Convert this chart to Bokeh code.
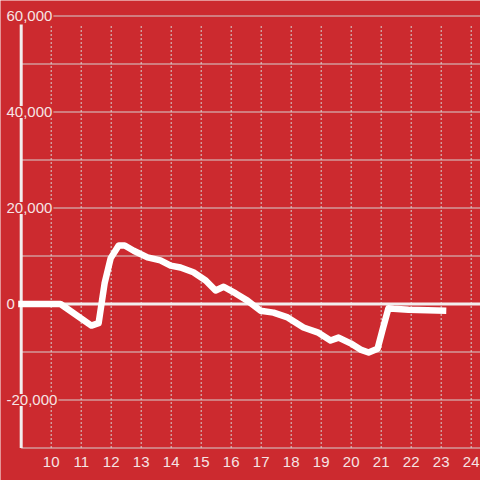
from bokeh.plotting import figure
from bokeh.models import Range1d
from bokeh.core.properties import value
from bokeh.embed import file_html
from bokeh.resources import INLINE

# ---- data ----
hours = [8.9, 10.31, 11.34, 11.58, 11.78, 11.98, 12.25, 12.45, 12.75, 13.21, 13.64,
         13.98, 14.31, 14.74, 15.15, 15.48, 15.75, 16.15, 16.54, 16.98, 17.41, 17.88,
         18.41, 18.88, 19.31, 19.58, 19.98, 20.31, 20.58, 20.88, 21.04, 21.24, 21.41,
         21.91, 23.17]
values = [0, 0, -4500, -4000, 4300, 9500, 12200, 12200, 11100, 9700, 9100,
          8000, 7600, 6600, 4900, 2800, 3600, 2200, 700, -1400, -1800, -2800,
          -4900, -5900, -7600, -7000, -8200, -9500, -10100, -9300, -5500, -900, -1000,
          -1200, -1400]

x_ticks = [10, 11, 12, 13, 14, 15, 16, 17, 18, 19, 20, 21, 22, 23, 24]
y_ticks = [-20000, 0, 20000, 40000, 60000]
y_tick_labels = ["-20,000", "0", "20,000", "40,000", "60,000"]
y_grid = [-20000, -10000, 10000, 20000, 30000, 40000, 50000, 60000]

BG = "#cc2a2f"
TXT = "#f6e4e4"
GRID = "#d6d0d0"

# pixel mapping: 30 px per hour, 4.8 px per 1000
X0 = 9.0
Y_BOTTOM = -30000
x_start = X0 - 20.7 / 30
x_end = x_start + 480 / 30
y_end = 303.5 / 4.8 * 1000
y_start = y_end - 480 / 4.8 * 1000
y_top_lines = (303.5 - 24) / 4.8 * 1000

p = figure(width=480, height=480, output_backend="svg", toolbar_location=None,
           x_range=Range1d(x_start, x_end), y_range=Range1d(y_start, y_end),
           x_axis_location=None, y_axis_location=None, min_border=0,
           background_fill_color=BG, border_fill_color=BG, outline_line_color=None,
           styles={"position": "absolute", "left": "0px", "top": "0px"})
p.grid.visible = False

# vertical dashed grid lines
p.segment(x0=x_ticks, y0=[Y_BOTTOM] * len(x_ticks), x1=x_ticks, y1=[y_top_lines] * len(x_ticks),
          line_color=GRID, line_width=1, line_dash="2 2")
# horizontal grid lines
p.segment(x0=[X0] * len(y_grid), y0=y_grid, x1=[x_end] * len(y_grid), y1=y_grid,
          line_color=GRID, line_width=1)
# bottom axis line
p.segment(x0=[X0], y0=[Y_BOTTOM], x1=[x_end], y1=[Y_BOTTOM], line_color=GRID, line_width=1)
# zero line
p.segment(x0=[X0], y0=[0], x1=[x_end], y1=[0], line_color="#f2eeee", line_width=3)
# left axis line
p.segment(x0=[X0], y0=[Y_BOTTOM], x1=[X0], y1=[y_top_lines], line_color="#f2eeee", line_width=3)

# data line
p.line(hours, values, line_color="white", line_width=6.5, line_join="round")

# y labels
p.text(x=[x_start] * len(y_ticks), y=y_ticks, text=y_tick_labels, x_offset=5,
       text_align="left", text_baseline="middle", text_color=TXT,
       text_font=value("Liberation Sans"), text_font_size="15px",
       background_fill_color=BG, padding=1)
# x labels
p.text(x=x_ticks, y=[Y_BOTTOM] * len(x_ticks), text=[str(t) for t in x_ticks], y_offset=14,
       text_align="center", text_baseline="middle", text_color=TXT,
       text_font=value("Liberation Sans"), text_font_size="15px")

open("out.html", "w").write(file_html(p, INLINE))
